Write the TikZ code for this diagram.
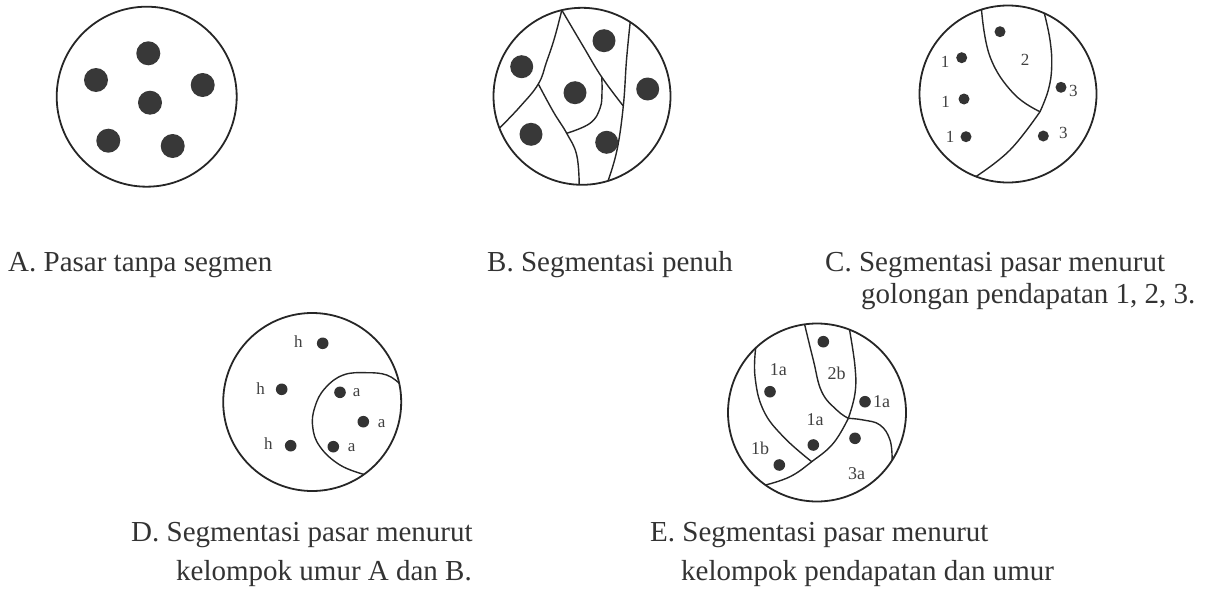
\documentclass[tikz,border=0pt]{standalone}
\usepackage{fontspec}
\setmainfont{Liberation Serif}
\begin{document}
\begin{tikzpicture}[x=1pt,y=-1pt,
  ring/.style={line width=1.8pt, draw=black!85},
  seg/.style={line width=1.4pt, draw=black!85},
  bigdot/.style={fill=black!78},
  smalldot/.style={fill=black!80},
  lab/.style={font=\fontsize{17}{17}\selectfont, text=black!75, inner sep=0pt},
  labe/.style={font=\fontsize{18}{18}\selectfont, text=black!75, inner sep=0pt},
  captxt/.style={font=\fontsize{29}{32}\selectfont, text=black!80, anchor=base west, inner sep=0pt},
]
\path[use as bounding box] (0,0) rectangle (1217,594);

% ---------- A ----------
\draw[ring] (146.7,96.7) circle[radius=90pt];
\foreach \p in {(148.3,53.3),(96,80),(202.7,85),(150,102.7),(108.3,140.7),(172.7,146)}
  \fill[bigdot] \p circle[radius=12pt];

% ---------- B ----------
\draw[ring] (582,96.3) circle[radius=88.5pt];
\draw[seg] plot[smooth, tension=0.7] coordinates {(561.8,10.1) (554.5,38) (546.5,62) (538.3,84) (520,106.7) (499.4,128.2)};
\draw[seg] plot[smooth, tension=0.7] coordinates {(538.3,84) (553.3,111.7) (566.7,133.3) (576.7,155) (579.2,184.8)};
\draw[seg] plot[smooth, tension=0.7] coordinates {(561.8,10.1) (583,46) (601.7,77) (623.3,106)};
\draw[seg] plot[smooth, tension=0.7] coordinates {(630.2,22.1) (626.5,60) (623.3,106) (617,150) (608,180.9)};
\draw[seg] plot[smooth, tension=0.7] coordinates {(566.7,133.3) (590,123.3) (600,108.3) (602,92) (601.7,77)};
\foreach \p in {(604,40.7),(521.7,66.7),(575,92.7),(647.7,89),(531,134.3),(606.7,142.3)}
  \fill[bigdot] \p circle[radius=11.5pt];

% ---------- C ----------
\draw[ring] (1008,94) circle[radius=88.5pt];
\draw[seg] plot[smooth, tension=0.7] coordinates {(981.5,9.6) (990,56.7) (1013.3,93.3) (1040,111.7)};
\draw[seg] plot[smooth, tension=0.7] coordinates {(1044.3,13.3) (1050,40) (1051.7,66.7) (1048.3,90) (1040,111.7)};
\draw[seg] plot[smooth, tension=0.7] coordinates {(1040,111.7) (1010,150) (976,176.5)};
\foreach \p in {(1000,31.7),(961.7,57.7),(964,99),(966,136.7),(1061,87.3),(1043.3,136)}
  \fill[smalldot] \p circle[radius=5.5pt];
\node[lab] (c1) at (945,61.7) {1};
\node[lab] (c2) at (945.7,101.7) {1};
\node[lab] (c3) at (950,136.7) {1};
\node[lab] (c4) at (1025,60) {2};
\node[lab] (c5) at (1073.3,90.7) {3};
\node[lab] (c6) at (1063.3,133.3) {3};

% ---------- D ----------
\draw[ring] (312.2,402) circle[radius=89pt];
\draw[seg] plot[smooth, tension=0.7] coordinates {(399.2,383.3) (386.7,375) (366.7,372.7) (343.3,375) (325,388.3) (315,406.7) (312.7,426.7) (320,446.7) (340,465) (364,474.4)};
\foreach \p in {(322.7,343.3),(281.7,389.3),(290.7,445.7),(340,392.3),(363.3,421.7),(333.3,446.7)}
  \fill[smalldot] \p circle[radius=5.8pt];
\node[lab] (d1) at (298.3,341.7) {h};
\node[lab] (d2) at (260.7,388.3) {h};
\node[lab] (d3) at (268.3,444) {h};
\node[lab] (d4) at (356.7,392.7) {a};
\node[lab] (d5) at (381.7,423.3) {a};
\node[lab] (d6) at (351.7,447.7) {a};

% ---------- E ----------
\draw[ring] (817,412.5) circle[radius=89pt];
\draw[seg] plot[smooth, tension=0.7] coordinates {(755.7,347.9) (755,376.7) (763.3,410) (783.3,436.7) (811.7,461.7)};
\draw[seg] plot[smooth, tension=0.7] coordinates {(765.4,485) (790,476.7) (811.7,461.7) (833.3,443.3) (848.3,418.3)};
\draw[seg] plot[smooth, tension=0.7] coordinates {(804.6,324.4) (813.3,360) (821.7,391.7) (836.7,410) (848.3,418.3)};
\draw[seg] plot[smooth, tension=0.7] coordinates {(849.5,329.6) (855,366.7) (855,393.3) (848.3,418.3)};
\draw[seg] plot[smooth, tension=0.7] coordinates {(848.3,418.3) (863.3,420) (880,425) (890,440) (892.1,460.3)};
\foreach \p in {(823.3,341.7),(770,391.7),(865,401.7),(813.3,445),(855,438.3),(779.3,465)}
  \fill[smalldot] \p circle[radius=5.8pt];
\node[labe] (e1) at (778.3,370) {1a};
\node[labe] (e2) at (836.7,373.3) {2b};
\node[labe] (e3) at (881.7,401.7) {1a};
\node[labe] (e4) at (815,420) {1a};
\node[labe] (e5) at (760,448.3) {1b};
\node[labe] (e6) at (856.7,473.3) {3a};

% ---------- captions ----------
\node[captxt] (capA) at (8,271) {A. Pasar tanpa segmen};
\node[captxt] (capB) at (487,271) {B. Segmentasi penuh};
\node[captxt] (capC1) at (825,271) {C. Segmentasi pasar menurut};
\node[captxt] (capC2) at (861,303) {golongan pendapatan 1, 2, 3.};
\node[captxt] (capD1) at (131,541) {D. Segmentasi pasar menurut};
\node[captxt] (capD2) at (176,580) {kelompok umur A dan B.};
\node[captxt] (capE1) at (650,541) {E. Segmentasi pasar menurut};
\node[captxt] (capE2) at (681,580) {kelompok pendapatan dan umur};
\end{tikzpicture}
\end{document}
